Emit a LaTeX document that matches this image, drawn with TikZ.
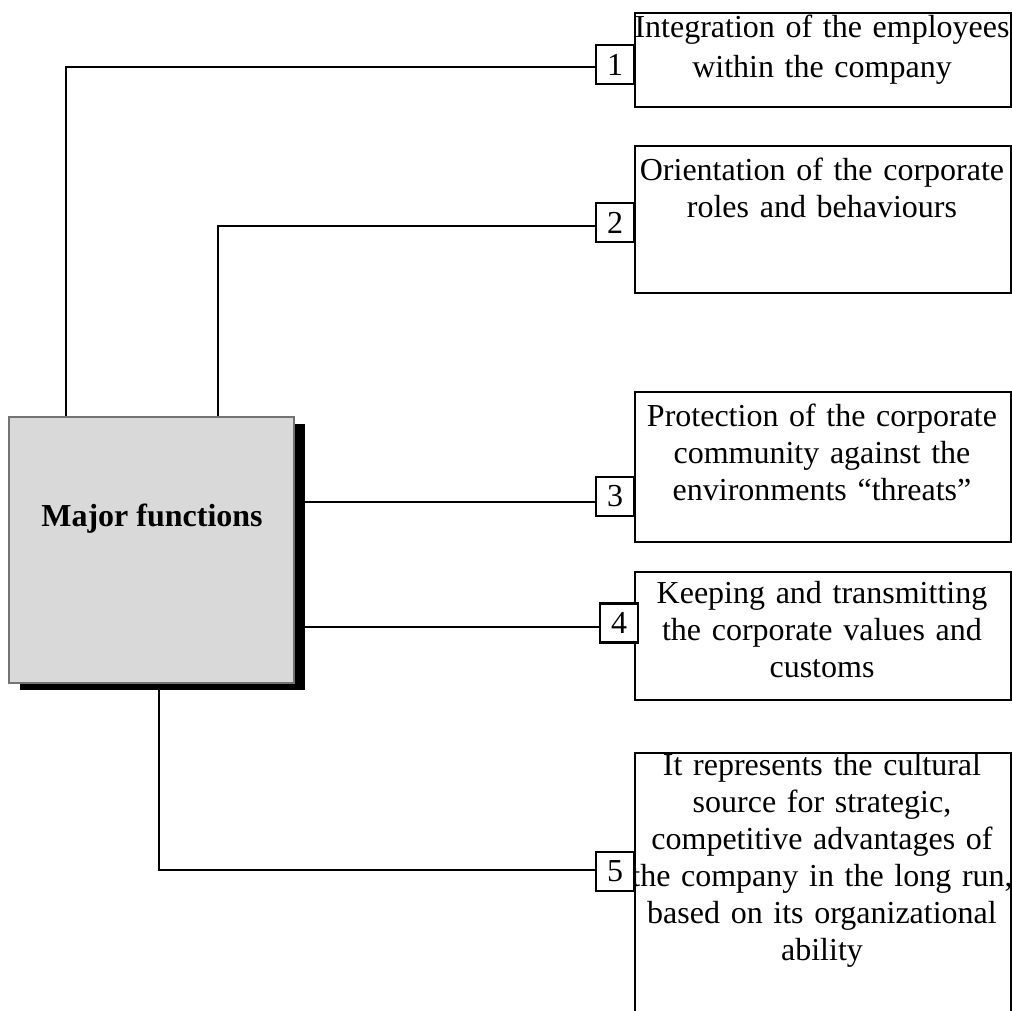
\documentclass[tikz,border=0pt]{standalone}
\usepackage{fontspec}
\setmainfont{Liberation Serif}
\usetikzlibrary{positioning,shadows}

\begin{document}
\begin{tikzpicture}[x=0.5pt,y=-0.5pt,line width=1.1pt,
    every node/.style={font=\fontsize{16pt}{18.5pt}\selectfont},
    major/.style={rectangle, draw=black!55, line width=0.8pt, fill=black!15,
      minimum width=142.5pt, minimum height=133pt, inner sep=0pt,
      drop shadow={shadow xshift=5.5pt, shadow yshift=-3.5pt, fill=black, opacity=1}},
    num/.style={rectangle, draw, line width=1.2pt, fill=white,
      minimum width=19pt, minimum height=19.5pt, inner sep=0pt},
    func/.style={rectangle, draw, line width=1.2pt, minimum width=188pt,
      inner sep=0pt, anchor=north west},
    ftext/.style={text width=240pt, align=center, inner sep=0pt, anchor=base}
    ]
\useasboundingbox (0,0) rectangle (1012,1011);

\node[major] (MF) at (151.5,550) {};
\node[font=\fontsize{16pt}{18.5pt}\selectfont\bfseries, anchor=base] (MFt) at (152,526) {Major functions};

\node[func, minimum height=47pt] (B1) at (634,12) {};
\node[func, minimum height=73.5pt] (B2) at (634,145) {};
\node[func, minimum height=75pt] (B3) at (634,391) {};
\node[func, minimum height=64pt] (B4) at (634,571) {};
\node[func, minimum height=140pt] (B5) at (634,752) {};

\node[ftext] (T1) at (822,38) {Integration of the employees\\[1.5pt] within the company};
\node[ftext] (T2) at (822,180) {Orientation of the corporate\\ roles and behaviours};
\node[ftext] (T3) at (822,426) {Protection of the corporate\\ community against the\\ environments ``threats''};
\node[ftext] (T4) at (822,603) {Keeping and transmitting\\ the corporate values and\\ customs};
\node[ftext] (T5) at (822,775) {It represents the cultural\\ source for strategic,\\ competitive advantages of\\ the company in the long run,\\ based on its organizational\\ ability};

\node[num] (N1) at (615,64.5) {1};
\node[num] (N2) at (615,222.5) {2};
\node[num] (N3) at (615,496.5) {3};
\node[num] (N4) at (619,623) {4};
\node[num] (N5) at (615,871.5) {5};

\coordinate (c1) at (66,67);
\coordinate (c2) at (218,226);
\coordinate (c3) at (0,502);
\coordinate (c4) at (0,627);
\coordinate (c5) at (159,870);
\draw (N1.west |- c1) -| (c1 |- MF.north);
\draw (N2.west |- c2) -| (c2 |- MF.north);
\draw (N3.west |- c3) -- (MF.east |- c3);
\draw (N4.west |- c4) -- (MF.east |- c4);
\draw (N5.west |- c5) -| (c5 |- MF.south);
\end{tikzpicture}
\end{document}
